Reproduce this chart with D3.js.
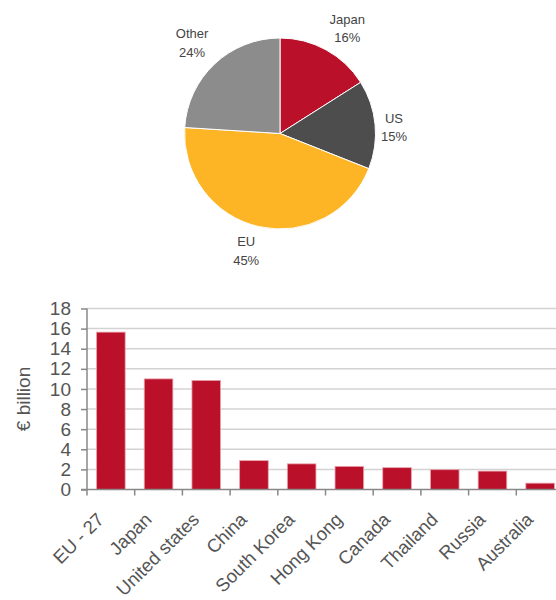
<!DOCTYPE html>
<html>
<head>
<meta charset="utf-8">
<script src="https://cdn.jsdelivr.net/npm/d3@7"></script>
<style>
  body { margin: 0; background: #fff; }
  svg { display: block; }
  text { font-family: "Liberation Sans", Arial, sans-serif; }
</style>
</head>
<body>
<svg id="chart" width="556" height="600"></svg>
<script>
// ---- Data ----
const pieLabels = ["Japan", "US", "EU", "Other"];
const pieValues = [16, 15, 45, 24];
const pieColors = ["#BA1029", "#4D4D4D", "#FDB526", "#8C8C8C"];

const categories = ["EU - 27", "Japan", "United states", "China", "South Korea",
                    "Hong Kong", "Canada", "Thailand", "Russia", "Australia"];
const barValues = [15.65, 11.0, 10.85, 2.87, 2.55, 2.3, 2.17, 1.97, 1.83, 0.63];
const yTicks = [0, 2, 4, 6, 8, 10, 12, 14, 16, 18];

(function () {
const svg = d3.select("#chart");

// ---- Pie ----
const cx = 280, cy = 133.5, R = 95.5;
const pie = d3.pie().sort(null).value(d => d.v);
const pieData = pie(pieValues.map((v, i) => ({ v, label: pieLabels[i], color: pieColors[i] })));
const arc = d3.arc().innerRadius(0).outerRadius(R);
const labelArc = d3.arc().innerRadius(122).outerRadius(122);
const rot = 3.5 * Math.PI / 180;
const nudge = { "US": [-8, -2], "Other": [-10, 3], "Japan": [2, -2] };

const gPie = svg.append("g").attr("transform", `translate(${cx},${cy})`);
gPie.selectAll("path").data(pieData).join("path")
  .attr("d", arc)
  .attr("fill", d => d.data.color)
  .attr("stroke", "#fff")
  .attr("stroke-width", 1);

const lbl = gPie.selectAll("text.pl").data(pieData).join("text")
  .attr("class", "pl")
  .attr("transform", d => {
    const c = labelArc.centroid({ startAngle: d.startAngle + rot, endAngle: d.endAngle + rot });
    const n = nudge[d.data.label] || [0, 0];
    return `translate(${c[0] + n[0]},${c[1] + n[1]})`;
  })
  .attr("text-anchor", "middle")
  .attr("font-size", 13)
  .attr("fill", "#444");
lbl.append("tspan").attr("x", 0).attr("y", -4.5).text(d => d.data.label);
lbl.append("tspan").attr("x", 0).attr("y", 14).text(d => d.data.v + "%");

// ---- Bar chart ----
const pLeft = 87, pRight = 564, pTop = 308.5, pBottom = 489.5;
const x = d3.scaleBand().domain(categories).range([pLeft, pRight])
  .paddingInner(0.4).paddingOuter(0.2);
const y = d3.scaleLinear().domain([0, 18]).range([pBottom, pTop]);

const gBar = svg.append("g");

// gridlines
gBar.selectAll("line.grid").data(yTicks.filter(t => t > 0)).join("line")
  .attr("class", "grid")
  .attr("x1", pLeft).attr("x2", 556)
  .attr("y1", d => y(d)).attr("y2", d => y(d))
  .attr("stroke", "#d3d3d3").attr("stroke-width", 1.5);

// bars
gBar.selectAll("rect").data(categories).join("rect")
  .attr("x", d => x(d))
  .attr("width", x.bandwidth())
  .attr("y", (d, i) => y(barValues[i]))
  .attr("height", (d, i) => y(0) - y(barValues[i]))
  .attr("fill", "#BA1029")
  .attr("stroke", "#e9a3ad")
  .attr("stroke-width", 0.8);

// y axis
const yAxis = d3.axisLeft(y).tickValues(yTicks).tickSize(6).tickPadding(10);
const gy = svg.append("g").attr("transform", `translate(${pLeft},0)`).call(yAxis);
gy.select(".domain").attr("stroke", "#888").attr("stroke-width", 1.5)
  .attr("d", `M0,${pTop}V${pBottom}`);
gy.selectAll(".tick line").attr("stroke", "#888").attr("stroke-width", 1.5);
gy.selectAll(".tick text").attr("font-size", 19).attr("fill", "#555")
  .attr("font-family", "Liberation Sans, Arial, sans-serif");

// x axis line
svg.append("line")
  .attr("x1", pLeft - 6).attr("x2", 556)
  .attr("y1", pBottom).attr("y2", pBottom)
  .attr("stroke", "#888").attr("stroke-width", 1.5);

// x ticks at band boundaries
const gap = (x.step() - x.bandwidth()) / 2;
svg.selectAll("line.xt").data(categories).join("line")
  .attr("class", "xt")
  .attr("x1", d => x(d) - gap).attr("x2", d => x(d) - gap)
  .attr("y1", pBottom).attr("y2", pBottom + 6)
  .attr("stroke", "#888").attr("stroke-width", 1.5);

// category labels
svg.selectAll("text.cat").data(categories).join("text")
  .attr("class", "cat")
  .attr("transform", d => `translate(${x(d) + x.bandwidth() / 2 - 15},${pBottom + 22}) rotate(-45)`)
  .attr("text-anchor", "end")
  .attr("dy", "0.7em")
  .attr("font-size", 18.5)
  .attr("fill", "#555")
  .text(d => d);

// y axis title
svg.append("text")
  .attr("transform", `translate(30,${(pTop + pBottom) / 2}) rotate(-90)`)
  .attr("text-anchor", "middle")
  .attr("font-size", 19)
  .attr("fill", "#555")
  .text("€ billion");
})();
</script>
</body>
</html>
